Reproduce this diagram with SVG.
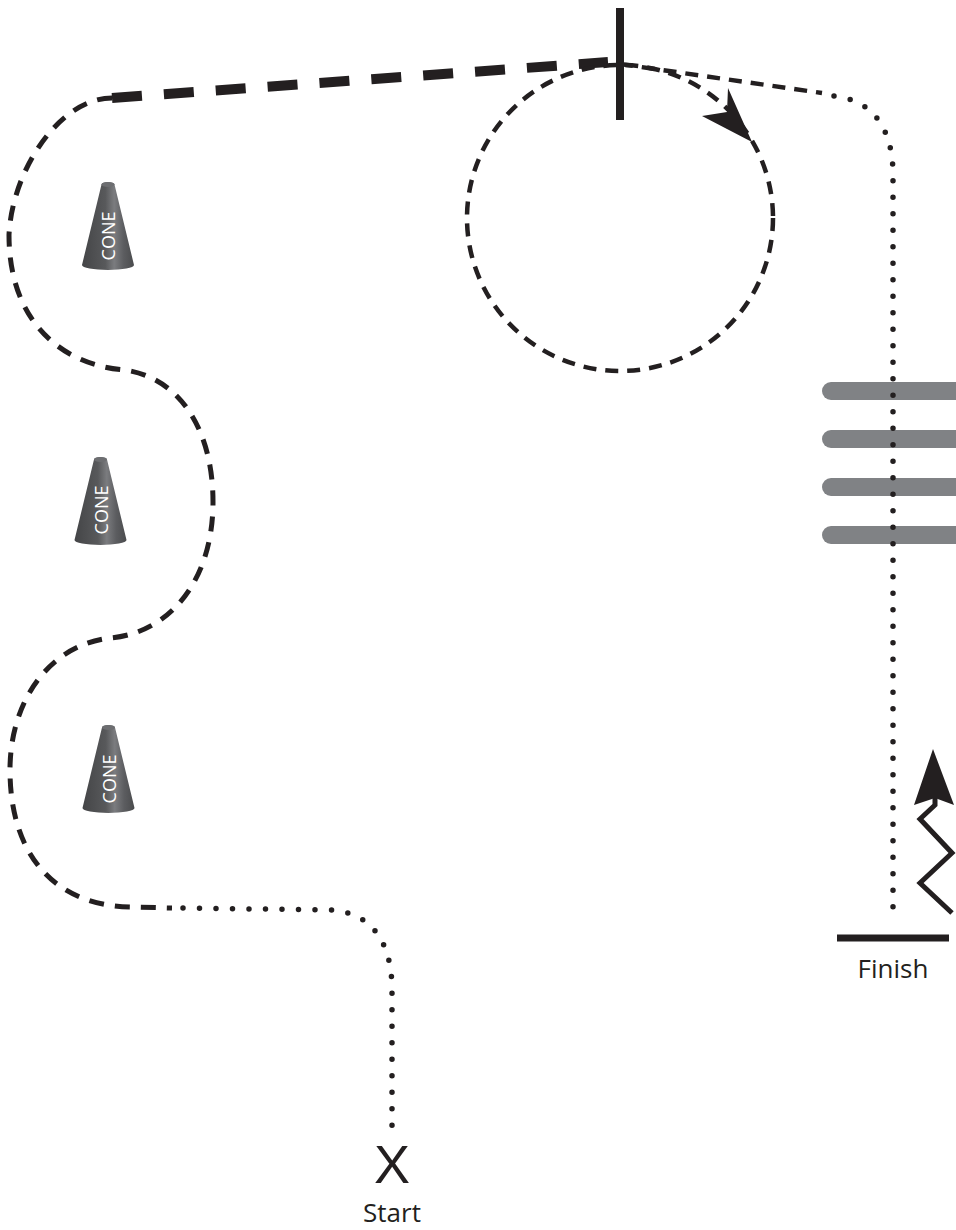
<svg xmlns="http://www.w3.org/2000/svg" width="956" height="1230" viewBox="0 0 956 1230">
<style>
.ink{fill:none;stroke:#231f20;}
.thick{stroke-width:10;stroke-dasharray:30 22;}
.dash{stroke-width:5;stroke-dasharray:15 11;}
.cdash{stroke-width:4.5;stroke-dasharray:13 9;}
.dot{stroke-width:5.5;stroke-dasharray:0 16.5;stroke-linecap:round;}
.solid{stroke-width:8;}
.bar{fill:#808285;}
.lbl{font-family:"Open Sans","Noto Sans","Liberation Sans",sans-serif;fill:#231f20;text-anchor:middle;}
.xmark{font-family:"Liberation Sans",Arial,sans-serif;fill:#231f20;text-anchor:middle;}
.cone-t{font-family:"Open Sans","Noto Sans","Liberation Sans",sans-serif;font-size:18px;fill:#ffffff;text-anchor:middle;}
</style>
<defs>
<linearGradient id="coneg" x1="0" y1="0" x2="1" y2="0">
<stop offset="0" stop-color="#444547"/>
<stop offset="0.45" stop-color="#58595b"/>
<stop offset="0.62" stop-color="#7b7c7f"/>
<stop offset="0.8" stop-color="#5c5d60"/>
<stop offset="1" stop-color="#4a4b4d"/>
</linearGradient>
<g id="cone">
<path d="M-6.5,2.5 A6.5 2.5 0 0 1 6.5,2.5 L26,83 A26 5 0 0 1 -26,83 Z" fill="url(#coneg)"/>
<ellipse cx="0" cy="2.5" rx="6.5" ry="2.5" fill="#6d6e71"/>
</g>
</defs>

<g id="bars">
<rect class="bar" x="822" y="382" width="150" height="18" rx="9"/>
<rect class="bar" x="822" y="430" width="150" height="18" rx="9"/>
<rect class="bar" x="822" y="478" width="150" height="18" rx="9"/>
<rect class="bar" x="822" y="526" width="150" height="18" rx="9"/>
</g>

<g id="connectors">
<path class="ink dash" d="M112,98 C60,98 12,170 9,235 C9,320 60,365 125,370 C180,378 213,430 213,502 C213,580 170,633 110,638 C50,645 10,700 10,770 C10,850 50,905 130,907 L172,908"/>
<path class="ink dot" d="M183,908 L330,910 C370,912 392,940 392,990 L392,1136"/>
<path class="ink thick" d="M112,98 L608,62"/>
<path class="ink cdash" d="M620,64 L822,93"/>
<path class="ink dot" d="M834,96 C870,100 893,125 893,175 L893,912"/>
<circle class="ink cdash" cx="620" cy="218" r="153"/>
<polygon points="752,142 728,88 727,112 702,116" fill="#231f20"/>
<polyline class="ink" style="stroke-width:5" points="952,913 920,883 952,853 920,819 935,805 935,795"/>
<polygon points="933,749 954,805 935,798 914,805" fill="#231f20"/>
</g>

<g id="checkpoint">
<line class="ink solid" x1="620" y1="8" x2="620" y2="120"/>
</g>

<g id="cone1">
<use href="#cone" x="108" y="182"/>
<text class="cone-t" x="115" y="236" transform="rotate(-90 115 236)">CONE</text>
</g>
<g id="cone2">
<use href="#cone" x="100.5" y="457"/>
<text class="cone-t" x="108" y="510" transform="rotate(-90 108 510)">CONE</text>
</g>
<g id="cone3">
<use href="#cone" x="108.5" y="725"/>
<text class="cone-t" x="116" y="779" transform="rotate(-90 116 779)">CONE</text>
</g>

<g id="finish">
<line class="ink" style="stroke-width:7" x1="837" y1="938" x2="949" y2="938"/>
<text class="lbl" x="893" y="978" font-size="26">Finish</text>
</g>

<g id="start">
<text class="xmark" x="392" y="1183" font-size="54">X</text>
<text class="lbl" x="392" y="1222" font-size="26">Start</text>
</g>
</svg>
